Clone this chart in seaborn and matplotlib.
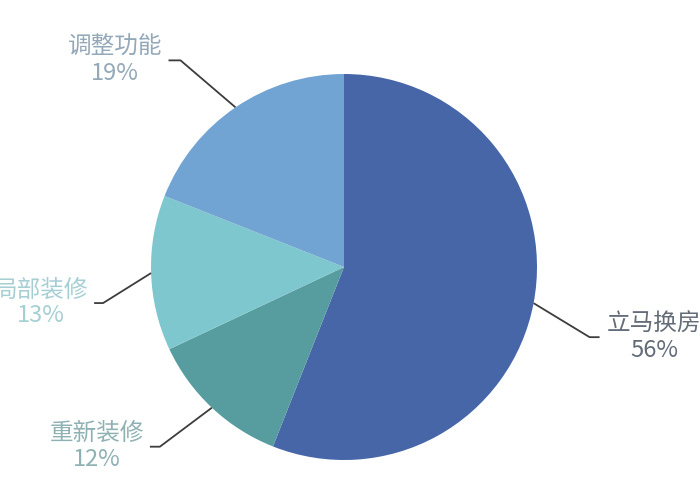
import numpy as np
import matplotlib
matplotlib.use("Agg")
import matplotlib.pyplot as plt
import seaborn as sns

# ---- data ----
categories = ["立马换房", "重新装修", "局部装修", "调整功能"]
shares = [56, 12, 13, 19]
pct_labels = ["56%", "12%", "13%", "19%"]

# ---- style ----
slice_colors = ["#4666a8", "#579c9f", "#7fc7cf", "#71a4d2"]
text_colors = ["#646c78", "#8fb1b3", "#a6cfd4", "#93a8b8"]
# leader geometry (pixels, y downward): elbow offset from wedge edge, horizontal run
elbow_offsets = [(56, 34), (-52, 39), (-48, 30), (-55, -47)]
horiz_runs = [10, -10, -9, -12]

sns.set_theme(style="white")
plt.rcParams["font.family"] = ["Noto Sans CJK SC", "DejaVu Sans"]

W, H = 700, 500
fig = plt.figure(figsize=(7, 5), dpi=100)
ax = fig.add_axes([0, 0, 1, 1])
ax.set_xlim(0, W)
ax.set_ylim(0, H)
ax.set_aspect("equal")
ax.axis("off")

cx, cy, r = 344, 267, 193
wedges, _ = ax.pie(shares, colors=slice_colors, startangle=90, counterclock=False,
                   center=(cx, H - cy), radius=r, frame=True,
                   wedgeprops=dict(linewidth=0))
ax.set_xlim(0, W)
ax.set_ylim(0, H)
ax.axis("off")

for w, name, pct, tc, off, run in zip(wedges, categories, pct_labels, text_colors,
                                      elbow_offsets, horiz_runs):
    mid = np.deg2rad((w.theta1 + w.theta2) / 2)
    ax_x = cx + r * np.cos(mid)
    ax_y = (H - cy) + r * np.sin(mid)
    ex, ey = ax_x + off[0], ax_y - off[1]
    fx = ex + run
    ax.plot([ax_x, ex, fx], [ax_y, ey, ey], color="#3d3d3d", lw=1.3,
            solid_capstyle="butt", clip_on=False)
    if run > 0:
        tx, ha = fx + 7, "left"
    else:
        tx, ha = fx - 6, "right"
    ax.text(tx, ey, f"{name}\n{pct}", ha=ha, va="center", multialignment="center",
            fontsize=17, color=tc, linespacing=1.15)

fig.savefig("out.png", dpi=100, facecolor="white")
